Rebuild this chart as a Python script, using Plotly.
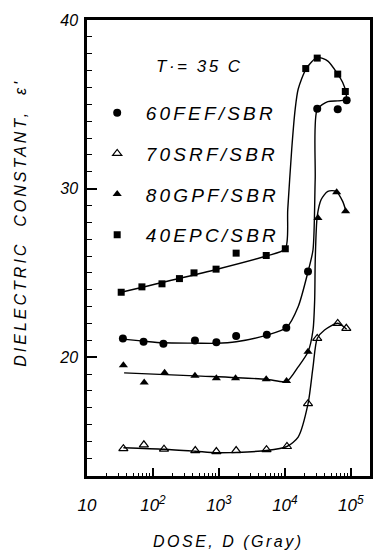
import plotly.graph_objects as go

# ---------------- data ----------------
# 60FEF/SBR  (filled circles)
fef_dose = [35, 72, 144, 433, 914, 1824, 5320, 10500, 22400, 30900, 63200, 86300]
fef_eps = [21.11, 20.91, 20.79, 20.99, 20.89, 21.25, 21.33, 21.74, 25.08, 34.74, 34.70, 35.24]
fef_fit_dose = [35, 72, 144, 433, 914, 1824, 5320, 10500, 15880, 22440, 26680, 28770, 30900, 44700, 63200, 86300]
fef_fit_eps = [21.07, 20.95, 20.85, 20.83, 20.82, 20.91, 21.31, 21.74, 22.99, 25.08, 26.37, 30.54, 34.70, 35.16, 35.20, 35.26]

# 70SRF/SBR  (open triangles)
srf_dose = [35.6, 72.8, 147, 438, 914, 1824, 5260, 10740, 22400, 30900, 63200, 85300]
srf_eps = [14.57, 14.80, 14.54, 14.46, 14.40, 14.46, 14.51, 14.70, 17.24, 21.11, 22.00, 21.71]
srf_fit_dose = [35.6, 147, 438, 914, 1824, 5260, 10740, 15880, 22440, 26680, 30900, 39900, 63200, 86300]
srf_fit_eps = [14.63, 14.54, 14.42, 14.33, 14.35, 14.46, 14.70, 15.26, 17.24, 19.42, 21.11, 21.61, 22.01, 21.65]

# 80GPF/SBR  (filled triangles)
gpf_dose = [35.6, 73.6, 150, 433, 914, 1786, 5212, 10590, 22400, 31700, 60900, 83200]
gpf_eps = [19.52, 18.49, 19.07, 18.89, 18.75, 18.75, 18.69, 18.59, 20.32, 28.26, 29.78, 28.65]
gpf_fit_dose = [36.5, 433, 5212, 10590, 15880, 22440, 26680, 28270, 28840, 30900, 35480, 44750, 59600, 75200, 84200]
gpf_fit_eps = [19.07, 18.89, 18.69, 18.55, 19.42, 20.32, 21.61, 23.39, 25.77, 28.35, 29.35, 29.84, 29.84, 29.24, 28.65]

# 40EPC/SBR  (filled squares)
epc_dose = [33, 68, 137, 252, 419, 905, 1824, 5212, 10140, 20700, 30900, 63200, 82400]
epc_eps = [23.85, 24.17, 24.35, 24.66, 25.00, 25.22, 26.17, 26.03, 26.43, 37.12, 37.74, 36.79, 35.76]
epc_fit_dose = [33, 905, 5212, 10140, 11040, 12680, 14300, 15880, 21100, 30900, 44800, 63200, 74900, 84100, 86300]
epc_fit_eps = [23.85, 25.20, 26.00, 26.43, 28.75, 32.32, 34.70, 35.89, 37.12, 37.78, 37.56, 36.79, 36.31, 35.73, 35.30]

x_tick_vals = [10, 100, 1000, 10000, 100000]
x_tick_text = ["10", "10<sup>2</sup>", "10<sup>3</sup>", "10<sup>4</sup>", "10<sup>5</sup>"]
y_tick_vals = [20, 30, 40]
y_tick_text = ["20", "30", "40"]

# ---------------- figure ----------------
FONT = "Liberation Sans"
fig = go.Figure()

fits = [(fef_fit_dose, fef_fit_eps), (srf_fit_dose, srf_fit_eps),
        (gpf_fit_dose, gpf_fit_eps), (epc_fit_dose, epc_fit_eps)]
for fx, fy in fits:
    fig.add_trace(go.Scatter(x=fx, y=fy, mode="lines", showlegend=False,
                             hoverinfo="skip",
                             line=dict(color="black", width=1.4, shape="spline", smoothing=0.7)))

def sp(t, ls=2.5):
    return '<span style="letter-spacing:%spx">' % ls + t + '</span>'

series = [
    ("60FEF/SBR", fef_dose, fef_eps, dict(symbol="circle", size=8, color="black")),
    ("70SRF/SBR", srf_dose, srf_eps, dict(symbol="triangle-up-open", size=8, color="black",
                                          line=dict(width=1.2, color="black"))),
    ("80GPF/SBR", gpf_dose, gpf_eps, dict(symbol="triangle-up", size=8, color="black")),
    ("40EPC/SBR", epc_dose, epc_eps, dict(symbol="square", size=7, color="black")),
]
for i, (name, xs, ys, mk) in enumerate(series):
    fig.add_trace(go.Scatter(x=xs, y=ys, mode="markers", name=sp(" " + name, 3.2),
                             legendgroup=str(i), marker=mk))

# minor tick positions for the log axis
x_minor = [m * 10 ** d for d in range(1, 5) for m in range(2, 10)] + [200000]

fig.update_layout(
    width=375, height=552, autosize=False,
    margin=dict(l=87, r=2, t=20, b=76, pad=0),
    paper_bgcolor="white", plot_bgcolor="white",
    font=dict(family=FONT, color="black", size=16, style="italic"),
    showlegend=True,
    legend=dict(x=0.036, xanchor="left", y=0.838, yanchor="top",
                bgcolor="rgba(0,0,0,0)", traceorder="grouped", tracegroupgap=13,
                font=dict(family=FONT, size=19, style="italic", color="black"),
                itemclick=False),
    xaxis=dict(type="log", range=[1.0, 5.29], showgrid=False, zeroline=False,
               showline=True, mirror=True, linecolor="black", linewidth=2.5,
               ticks="inside", ticklen=8, tickwidth=1.5, tickcolor="black",
               tickvals=x_tick_vals, ticktext=x_tick_text,
               tickfont=dict(family=FONT, size=17, style="italic"),
               ticklabelstandoff=12,
               minor=dict(tickvals=x_minor, ticks="inside", ticklen=3, tickwidth=1.2,
                          tickcolor="black", showgrid=False)),
    yaxis=dict(range=[12.95, 40.0], showgrid=False, zeroline=False,
               showline=True, mirror=True, linecolor="black", linewidth=2.5,
               ticks="inside", ticklen=10, tickwidth=1.5, tickcolor="black",
               tickvals=y_tick_vals, ticktext=y_tick_text,
               tickfont=dict(family=FONT, size=16, style="italic"),
               ticklabelstandoff=3,
               minor=dict(dtick=1, tick0=0, ticks="inside", ticklen=5, tickwidth=1.2,
                          tickcolor="black", showgrid=False)),
    annotations=[
        dict(text=sp("T·= 35 C"), xref="paper", yref="paper", x=0.399, y=0.897,
             xanchor="center", yanchor="middle", showarrow=False,
             font=dict(family=FONT, size=17, style="italic")),
        dict(text=sp("DOSE, D (Gray)"), xref="paper", yref="paper", x=0.5, y=-0.144,
             xanchor="center", yanchor="middle", showarrow=False,
             font=dict(family=FONT, size=16, style="italic")),
        dict(text='<span style="letter-spacing:3px">DIELECTRIC  CONSTANT,  ε\'</span>',
             xref="paper", yref="paper", x=-0.234, y=0.555, textangle=-90,
             xanchor="center", yanchor="middle", showarrow=False,
             font=dict(family=FONT, size=16, style="italic")),
    ],
)

fig.write_html("out.html")
